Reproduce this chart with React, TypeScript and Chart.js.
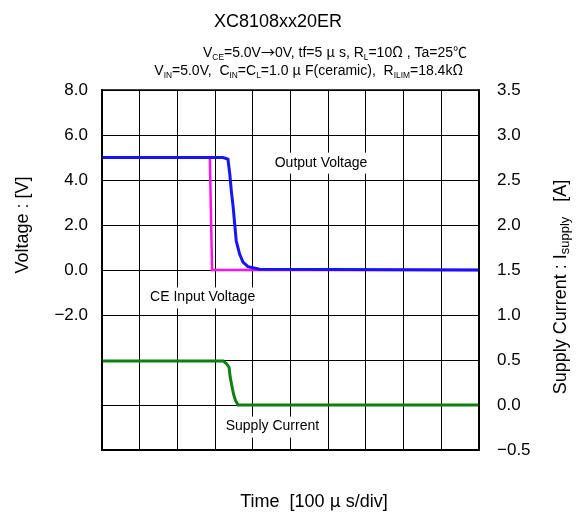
import React, { useEffect, useRef } from "react";
import { Chart, registerables } from "chart.js";

Chart.register(...registerables);

// Time axis in divisions (100 µs/div)
const timeOutput = [0, 3.21, 3.34, 3.39, 3.43, 3.48, 3.52, 3.56, 3.65, 3.74, 3.87, 4.18, 10];
const outputVoltage = [5.0, 5.0, 4.93, 4.26, 3.52, 2.78, 2.04, 1.3, 0.71, 0.35, 0.15, 0.03, 0];

const timeCE = [0, 2.86, 2.92, 10];
const ceVoltage = [5.0, 5.0, 0, 0];

const timeSupply = [0, 3.21, 3.3, 3.37, 3.4, 3.45, 3.49, 3.54, 3.61, 10];
const supplyCurrent = [0.49, 0.49, 0.46, 0.42, 0.31, 0.2, 0.12, 0.05, 0, 0];

const voltageLabelMin = -2; // labels shown only from -2.0 V upward

const annotationText = ["Output Voltage", "CE Input Voltage", "Supply Current"];
const annotationTime = [5.81, 2.67, 4.52];
const annotationVolt = [4.77, -1.22, -6.96];

const FAMILY = "'Liberation Sans', Arial, sans-serif";
const CJK = "'Noto Sans CJK JP', 'Liberation Sans', sans-serif";

type Seg = { t: string; sub?: boolean; cjk?: boolean };

function drawRich(
  ctx: CanvasRenderingContext2D,
  segs: Seg[],
  x: number,
  y: number,
  align: "left" | "center" | "right",
  size: number,
  subRatio = 0.6
) {
  const subSize = size * subRatio;
  const fontOf = (s: Seg) => `${s.sub ? subSize : size}px ${s.cjk ? CJK : FAMILY}`;
  let w = 0;
  const widths = segs.map((s) => {
    ctx.font = fontOf(s);
    const m = ctx.measureText(s.t).width;
    w += m;
    return m;
  });
  let cx = align === "center" ? x - w / 2 : align === "right" ? x - w : x;
  ctx.textAlign = "left";
  ctx.textBaseline = "alphabetic";
  segs.forEach((s, i) => {
    ctx.font = fontOf(s);
    ctx.fillText(s.t, cx, s.sub ? y + size * 0.18 : y);
    cx += widths[i];
  });
}

const fmt = (v: number) => {
  const s = Math.abs(v).toFixed(1);
  return v < -1e-9 ? "\u2212" + s : s;
};

const textPlugin = {
  id: "textPlugin",
  afterDatasetsDraw(chart: any) {
    const ctx: CanvasRenderingContext2D = chart.ctx;
    const xs = chart.scales.x;
    const ys = chart.scales.y;
    ctx.save();
    annotationText.forEach((t, i) => {
      const px = xs.getPixelForValue(annotationTime[i]);
      const py = ys.getPixelForValue(annotationVolt[i]);
      ctx.font = `14px ${FAMILY}`;
      const w = ctx.measureText(t).width;
      ctx.fillStyle = "#ffffff";
      ctx.fillRect(px - w / 2 - 4, py - 10, w + 8, 21);
      ctx.fillStyle = "#000000";
      ctx.textAlign = "center";
      ctx.textBaseline = "middle";
      ctx.fillText(t, px, py);
    });
    const a = chart.chartArea;
    ctx.strokeStyle = "#000";
    ctx.lineWidth = 1.5;
    ctx.strokeRect(a.left, a.top, a.right - a.left, a.bottom - a.top);
    ctx.restore();
  },
  afterDraw(chart: any) {
    const ctx: CanvasRenderingContext2D = chart.ctx;
    ctx.save();
    ctx.fillStyle = "#000";
    drawRich(ctx, [{ t: "XC8108xx20ER" }], 278, 27, "center", 18);
    drawRich(
      ctx,
      [
        { t: "V" },
        { t: "CE", sub: true },
        { t: "=5.0V" },
        { t: "\u2192", cjk: true },
        { t: "0V, tf=5 " },
        { t: "\u03bc", cjk: true },
        { t: " s, R" },
        { t: "L", sub: true },
        { t: "=10" },
        { t: "\u03a9", cjk: true },
        { t: " , Ta=25" },
        { t: "\u2103", cjk: true },
      ],
      467,
      57,
      "right",
      14
    );
    drawRich(
      ctx,
      [
        { t: "V" },
        { t: "IN", sub: true },
        { t: "=5.0V,  C" },
        { t: "IN", sub: true },
        { t: "=C" },
        { t: "L", sub: true },
        { t: "=1.0 " },
        { t: "\u03bc", cjk: true },
        { t: " F(ceramic),  R" },
        { t: "ILIM", sub: true },
        { t: "=18.4k" },
        { t: "\u03a9", cjk: true },
      ],
      463,
      75,
      "right",
      14
    );
    drawRich(
      ctx,
      [{ t: "Time  [100 " }, { t: "\u03bc", cjk: true }, { t: " s/div]" }],
      314,
      507,
      "center",
      18
    );
    ctx.save();
    ctx.translate(28, 225);
    ctx.rotate(-Math.PI / 2);
    drawRich(ctx, [{ t: "Voltage : [V]" }], 0, 0, "center", 18);
    ctx.restore();
    ctx.save();
    ctx.translate(566, 287);
    ctx.rotate(-Math.PI / 2);
    drawRich(
      ctx,
      [{ t: "Supply Current : I" }, { t: "supply", sub: true }, { t: "   [A]" }],
      0,
      0,
      "center",
      18,
      0.72
    );
    ctx.restore();
    ctx.restore();
  },
};

export default function App() {
  const ref = useRef<HTMLCanvasElement | null>(null);
  useEffect(() => {
    if (!ref.current) return;
    const chart = new Chart(ref.current, {
      type: "line",
      data: {
        datasets: [
          {
            label: "Output Voltage",
            data: timeOutput.map((t, i) => ({ x: t, y: outputVoltage[i] })),
            borderColor: "#1414ff",
            borderWidth: 3,
            pointRadius: 0,
            tension: 0,
            yAxisID: "y",
            order: 1,
          },
          {
            label: "Supply Current",
            data: timeSupply.map((t, i) => ({ x: t, y: supplyCurrent[i] })),
            borderColor: "#0e800e",
            borderWidth: 3,
            pointRadius: 0,
            tension: 0,
            yAxisID: "y1",
            order: 2,
          },
          {
            label: "CE Input Voltage",
            data: timeCE.map((t, i) => ({ x: t, y: ceVoltage[i] })),
            borderColor: "#ff10f0",
            borderWidth: 2.5,
            pointRadius: 0,
            tension: 0,
            yAxisID: "y",
            order: 3,
          },
        ],
      },
      options: {
        animation: false,
        responsive: false,
        maintainAspectRatio: false,
        layout: { padding: { top: 90, bottom: 63, left: 0, right: 0 }, autoPadding: false } as any,
        plugins: {
          legend: { display: false },
          tooltip: { enabled: false },
          title: { display: false },
        },
        scales: {
          x: {
            type: "linear",
            min: 0,
            max: 10,
            ticks: { display: false, stepSize: 1 },
            grid: { color: "#000", lineWidth: 1, drawTicks: false },
            border: { display: true, color: "#000", width: 1.5 },
            afterFit: (s: any) => {
              s.height = 0;
            },
          },
          y: {
            type: "linear",
            position: "left",
            min: -8,
            max: 8,
            ticks: {
              stepSize: 2,
              color: "#000",
              padding: 14,
              font: { size: 17, family: FAMILY },
              callback: (v: any) => (Number(v) < voltageLabelMin - 1e-9 ? "" : fmt(Number(v))),
            },
            grid: { color: "#000", lineWidth: 1, drawTicks: false },
            border: { display: true, color: "#000", width: 1.5 },
            afterFit: (s: any) => {
              s.width = 102;
            },
          },
          y1: {
            type: "linear",
            position: "right",
            min: -0.5,
            max: 3.5,
            ticks: {
              stepSize: 0.5,
              color: "#000",
              padding: 18,
              font: { size: 17, family: FAMILY },
              callback: (v: any) => fmt(Number(v)),
            },
            grid: { display: false, drawTicks: false },
            border: { display: true, color: "#000", width: 1.5 },
            afterFit: (s: any) => {
              s.width = 100;
            },
          },
        },
      },
      plugins: [textPlugin],
    });
    return () => chart.destroy();
  }, []);
  return (
    <div style={{ position: "absolute", left: 0, top: 0, width: 579, height: 513, background: "#fff" }}>
      <canvas ref={ref} width={579} height={513} style={{ display: "block" }} />
    </div>
  );
}
